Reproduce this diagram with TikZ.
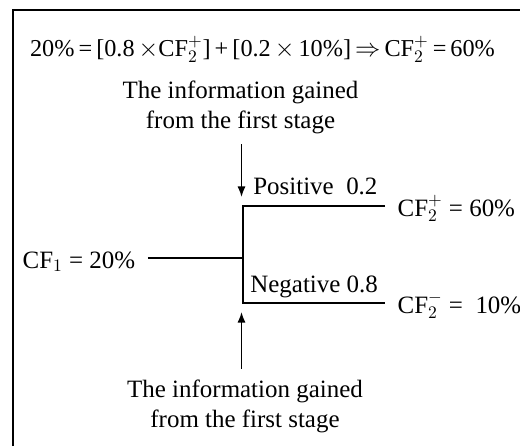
\documentclass[tikz,border=0pt]{standalone}
\usepackage{fontspec}
\setmainfont{Liberation Serif}
\usetikzlibrary{arrows.meta}
\tikzset{
  txt/.style={inner sep=0pt, font=\fontsize{14.2pt}{17.1pt}\selectfont},
  info/.style={txt, inner sep=6pt, align=center},
  leaf/.style={txt, inner xsep=7pt, text height=13.5pt, text depth=2.1pt},
  branch/.style={line width=1.1pt},
  cue/.style={line width=0.9pt, -{Latex[length=6pt,width=4.6pt]}}
}

\begin{document}
\begin{tikzpicture}
%%%%% START %%%%%
\useasboundingbox (0, 0) rectangle (10.4, 8.92);

\draw[line width=0.85pt] (0.26, 0) -- (0.26, 8.72) -- (10.4, 8.72);

\node[txt, font=\fontsize{13.8pt}{17pt}\selectfont, anchor=base] (rule) at (5.25, 7.78)
  {20\%\,=\,[0.8\,${\times}$CF$_2^+$]\,+\,[0.2\,${\times}$\,10\%]\,${\Rightarrow}$\,CF$_2^+$\,=\,60\%};

\node[info] (gainA) at (4.81, 6.78) {The information gained\\from the first stage};
\node[info] (gainB) at (4.90, 0.80) {The information gained\\from the first stage};

\node[leaf, anchor=west] (cf1) at (0.2, 3.76) {CF$_1$ = 20\%};
\node[leaf, anchor=west] (cfpos) at (7.70, 4.80) {CF$_2^+$ = 60\%};
\node[leaf, anchor=west] (cfneg) at (7.70, 2.86) {CF$_2^-$ =\ \ 10\%};

\coordinate (forkT) at (4.86, 4.80);
\coordinate (forkB) at (4.86, 2.86);
\draw[branch] (cfpos.west) -- (forkT) -- (forkB) -- (cfneg.west);
\draw[branch] (cf1.east) -- (cf1.east -| forkT);

\node[txt, anchor=base west] (pos) at (5.06, 5.02) {Positive\ \ 0.2};
\node[txt, anchor=base west] (neg) at (5.00, 3.08) {Negative 0.8};

\coordinate (tipA) at (4.83, 4.98);
\coordinate (tipB) at (4.83, 2.68);
\draw[cue] (gainA.south -| tipA) -- (tipA);
\draw[cue] (gainB.north -| tipB) -- (tipB);
%%%%% END %%%%%
\end{tikzpicture}
\end{document}
